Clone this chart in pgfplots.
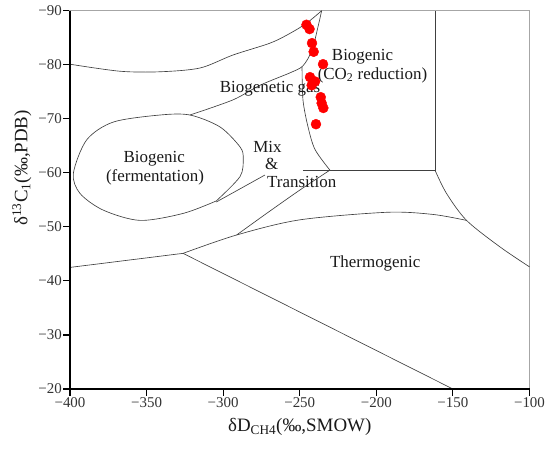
\documentclass[border=0pt]{standalone}
\usepackage{fontspec}
\setmainfont{Liberation Serif}
\usepackage{pgfplots}
\pgfplotsset{compat=1.18}
\tikzset{lab/.style={font=\fontsize{17}{19}\selectfont, text=black!90},
  bd/.style={black!75, line width=0.65bp}}
\begin{document}
\begin{tikzpicture}
\begin{axis}[
  scale only axis,
  width=459.5bp, height=378.3bp,
  xmin=-400, xmax=-100, ymin=-90, ymax=-20,
  y dir=reverse,
  axis line style={draw=black!35, line width=1.2bp},
  xtick={-400,-350,-300,-250,-200,-150,-100},
  ytick={-90,-80,-70,-60,-50,-40,-30,-20},
  xticklabels={−400,−350,−300,−250,−200,−150,−100},
  yticklabels={−90,−80,−70,−60,−50,−40,−30,−20},
  xtick pos=left, ytick pos=left,
  tick align=outside,
  major tick length=6.5bp,
  minor tick num=0,
  tick style={black, line width=1.1bp},
  xticklabel style={font=\fontsize{15}{15}\selectfont, text=black!80, inner sep=2bp},
  yticklabel style={font=\fontsize{15}{15}\selectfont, text=black!80, inner sep=1.5bp},
  clip=false,
]
% top-left outer curve
\addplot[bd, mark=none, smooth] coordinates {(-400,-80.1) (-367.4,-78.8) (-341.2,-78.7) (-315.1,-79.4) (-293.6,-81.8) (-269.4,-84.0) (-256.4,-85.8) (-245.5,-87.7) (-235.7,-90)};
% inner curve (lower boundary of biogenetic gas)
\addplot[bd, mark=none, smooth] coordinates {(-321.7,-70.7) (-293.6,-73.5) (-276.0,-76.2) (-256.4,-78.5) (-247.9,-79.8) (-242.0,-82.7) (-238.1,-87.0) (-235.7,-90)};
% CO2 reduction left boundary
\addplot[bd, mark=none, smooth] coordinates {(-248.5,-79.6) (-247.9,-73.5) (-244.6,-68.5) (-240.0,-64.3) (-230.3,-60.5)};
% box
\addplot[bd, mark=none] coordinates {(-247.9,-60.5) (-161.7,-60.5) (-161.7,-90)};
% right curve
\addplot[bd, mark=none, smooth] coordinates {(-161.7,-60.5) (-154.2,-56.2) (-141.1,-51.2) (-119.3,-46.3) (-100,-42.6)};
% ellipse (fermentation)
\addplot[bd, mark=none, smooth] coordinates {(-304.5,-54.8) (-289.0,-59.3) (-286.9,-62.7) (-289.0,-64.8) (-302.1,-68.5) (-321.7,-70.7) (-341.2,-70.7) (-371.7,-69.4) (-389.1,-66.1) (-397.8,-59.9) (-393.5,-56.2) (-378.3,-53.1) (-354.3,-51.2) (-326.0,-52.5) (-304.5,-54.8)};
% short mix line from ellipse
\addplot[bd, mark=none] coordinates {(-304.5,-54.6) (-272.7,-59.6)};
% lower line, left part
\addplot[bd, mark=none] coordinates {(-400,-42.5) (-326.2,-45.1)};
% lower line continued: thermogenic upper boundary
\addplot[bd, mark=none, smooth] coordinates {(-326.2,-45.1) (-291.2,-48.5) (-250,-51.3) (-193,-52.7) (-163,-52.3) (-141.1,-51.2)};
% mix lower boundary
\addplot[bd, mark=none, smooth] coordinates {(-291.2,-48.5) (-271.6,-52.5) (-250,-56.8) (-230.3,-60.5)};
% diagonal
\addplot[bd, mark=none] coordinates {(-326.2,-45.1) (-150,-20)};
% samples
\addplot[only marks, mark=*, mark size=5bp, draw=red, fill=red] coordinates {
(-245.6,-87.4) (-243.6,-86.6) (-242.0,-84.0) (-240.9,-82.4) (-234.8,-80.1)
(-243.3,-77.7) (-240.0,-76.9) (-242.2,-76.2) (-236.3,-74.0) (-235.7,-72.9)
(-234.6,-72.0) (-239.4,-69.0)};
% labels
\node[lab] at (axis cs:-209.0,-81.5) {Biogenic};
\node[lab] at (axis cs:-202.5,-78.1) {(CO\textsubscript{2} reduction)};
\node[lab] at (axis cs:-269.4,-75.6) {Biogenetic gas};
\node[lab] at (axis cs:-345.0,-62.7) {Biogenic};
\node[lab] at (axis cs:-344.5,-59.1) {(fermentation)};
\node[lab] at (axis cs:-271.1,-64.8) {Mix};
\node[lab] at (axis cs:-268.3,-61.7) {\&};
\node[lab] at (axis cs:-248.7,-58.3) {Transition};
\node[lab] at (axis cs:-200.7,-43.3) {Thermogenic};
\end{axis}
\draw[black, line width=1.3bp] (current axis.north west) -- (current axis.south west) -- (current axis.south east);
\node[font=\fontsize{19}{21}\selectfont, text=black!90] at ([yshift=-37.7bp]current axis.south) {δD\textsubscript{CH4}(‰,SMOW)};
\node[rotate=90, font=\fontsize{19}{21}\selectfont, text=black!90] at ([xshift=-48bp,yshift=32bp]current axis.west) {δ\textsuperscript{13}C\textsubscript{1}(‰,PDB)};
\pgfresetboundingbox
\path ([shift={(-70bp,-64bp)}]current axis.south west) rectangle ([shift={(20.5bp,10.7bp)}]current axis.north east);
\end{tikzpicture}
\end{document}
